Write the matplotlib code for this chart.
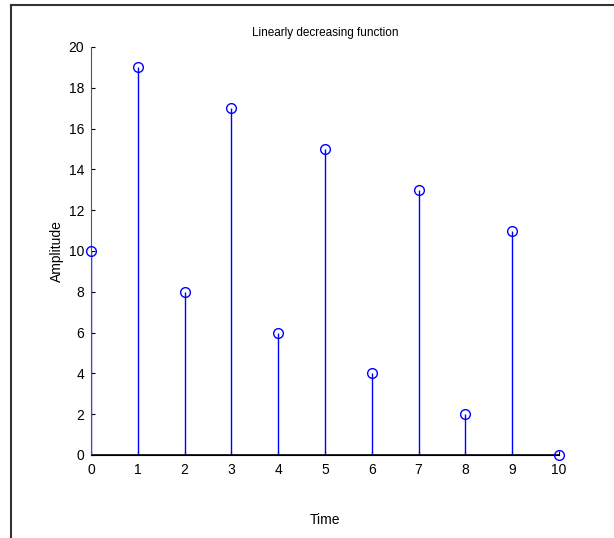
import matplotlib
matplotlib.use("Agg")
import matplotlib.pyplot as plt
from matplotlib.lines import Line2D

time = list(range(11))
amplitude = [10, 19, 8, 17, 6, 15, 4, 13, 2, 11, 0]
x_ticks = list(range(11))
y_ticks = list(range(0, 21, 2))

plt.rcParams['font.family'] = ['Liberation Sans', 'DejaVu Sans']

fig = plt.figure(figsize=(6.14, 5.38), dpi=100)
ax = fig.add_axes([91 / 614, 83 / 538, 468 / 614, 408 / 538])

markerline, stemlines, baseline = ax.stem(time, amplitude, basefmt='k-')
plt.setp(stemlines, color=(0, 0, 1), linewidth=1.0)
plt.setp(markerline, color=(0, 0, 1), marker='o', markerfacecolor='none',
         markersize=7, markeredgewidth=1.0, zorder=5)
plt.setp(baseline, color='black', linewidth=1.2)
markerline.set_clip_on(False)

ax.set_xlim(0, 10)
ax.set_ylim(0, 20)
ax.set_xticks(x_ticks)
ax.set_yticks(y_ticks)
ax.tick_params(direction='in', length=3, width=0.8, labelsize=10, colors='black')
ax.tick_params(axis='x', pad=6)
ax.tick_params(axis='y', pad=5)
for side in ('top', 'right'):
    ax.spines[side].set_visible(False)
ax.spines['left'].set_color('#555555')
ax.spines['bottom'].set_color('black')

ax.set_title('Linearly decreasing function', fontsize=8.5, pad=8)
ax.set_xlabel('Time', fontsize=10, labelpad=26)
ax.set_ylabel('Amplitude', fontsize=10, labelpad=3)

# page frame around the figure
frame = dict(color='#333333', linewidth=1.5, transform=fig.transFigure, clip_on=False)
fig.add_artist(Line2D([11 / 614, 1.0], [1 - 5 / 538, 1 - 5 / 538], **frame))
fig.add_artist(Line2D([11 / 614, 11 / 614], [0.0, 1 - 5 / 538], **frame))

fig.savefig('out.png', dpi=100)
